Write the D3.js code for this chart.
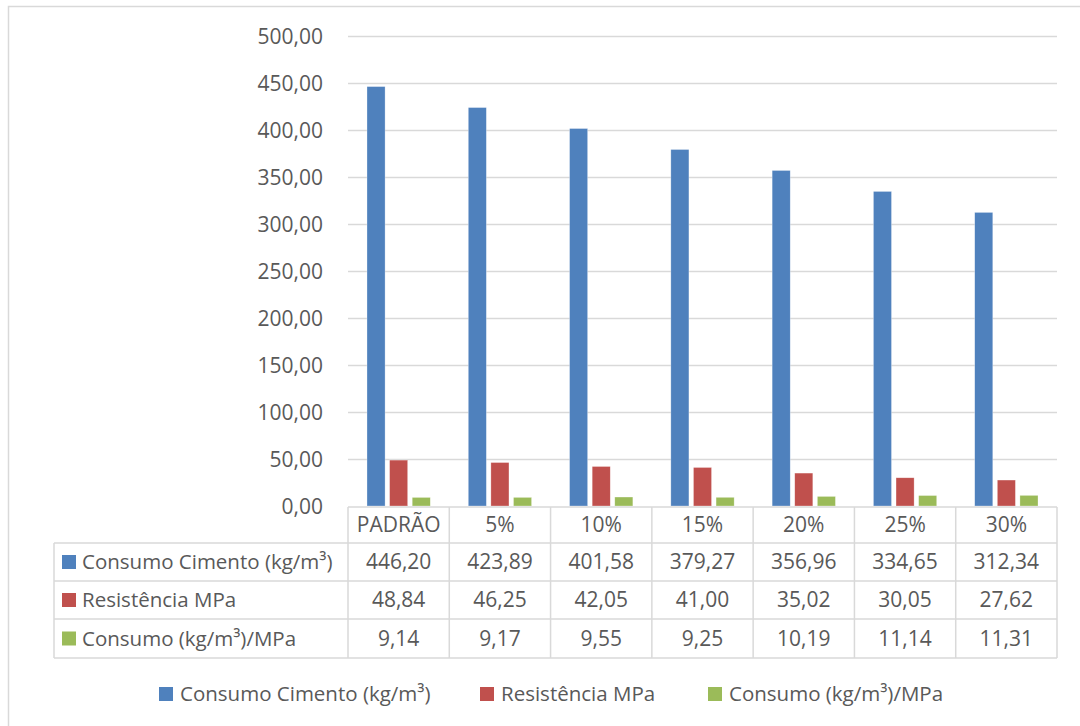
<!DOCTYPE html>
<html>
<head>
<meta charset="utf-8">
<script src="https://cdn.jsdelivr.net/npm/d3@7"></script>
<style>
  html, body { margin: 0; padding: 0; background: #fff; }
  svg { display: block; }
  text { font-family: "Open Sans", sans-serif; fill: #595959; }
</style>
</head>
<body>
<svg id="chart" width="1080" height="726"></svg>
<script>
// Categories (replacement levels) and the three measured series
const categories = ["PADRÃO", "5%", "10%", "15%", "20%", "25%", "30%"];
const seriesNames = ["Consumo Cimento (kg/m³)", "Resistência MPa", "Consumo (kg/m³)/MPa"];
const consumoCimento = [446.20, 423.89, 401.58, 379.27, 356.96, 334.65, 312.34];
const resistencia = [48.84, 46.25, 42.05, 41.00, 35.02, 30.05, 27.62];
const consumoPorMPa = [9.14, 9.17, 9.55, 9.25, 10.19, 11.14, 11.31];
const yTicks = [0, 50, 100, 150, 200, 250, 300, 350, 400, 450, 500];
const colors = ["#4F81BD", "#C0504D", "#9BBB59"];

const seriesValues = [consumoCimento, resistencia, consumoPorMPa];
const fmt = v => v.toFixed(2).replace(".", ",");

const svg = d3.select("#chart");
const gridColor = "#d9d9d9";
const fontSize = 21;
const textColor = "#555555";

// Outer chart frame
svg.append("rect")
  .attr("x", 8.5).attr("y", 6.5)
  .attr("width", 1100).attr("height", 740)
  .attr("fill", "none").attr("stroke", gridColor).attr("stroke-width", 1.5);

const plotLeft = 348, plotRight = 1057, plotTop = 36, plotBottom = 506;

const x = d3.scaleBand().domain(categories).range([plotLeft, plotRight]);
const xs = d3.scaleBand().domain(seriesNames)
  .range([0, x.bandwidth()]).paddingInner(0.2).paddingOuter(0.84);
const y = d3.scaleLinear().domain([0, 500]).range([plotBottom, plotTop]);

// Horizontal gridlines
svg.append("g").selectAll("line").data(yTicks.filter(t => t > 0)).join("line")
  .attr("x1", plotLeft).attr("x2", plotRight)
  .attr("y1", d => Math.round(y(d)) + 0.5).attr("y2", d => Math.round(y(d)) + 0.5)
  .attr("stroke", gridColor).attr("stroke-width", 1.5);

// Y-axis labels
const yAxis = d3.axisLeft(y).tickValues(yTicks).tickFormat(fmt).tickSize(0).tickPadding(0);
const yg = svg.append("g").attr("transform", "translate(323,0)").call(yAxis);
yg.select(".domain").remove();
yg.selectAll("text")
  .attr("font-family", "Open Sans, sans-serif")
  .attr("font-size", fontSize).attr("fill", textColor).attr("dy", "0.35em");

// Bars
const groups = svg.append("g").selectAll("g").data(seriesNames).join("g")
  .attr("fill", (d, i) => colors[i]);
groups.selectAll("rect")
  .data((s, i) => categories.map((c, j) => ({ s, c, v: seriesValues[i][j] })))
  .join("rect")
  .attr("x", d => x(d.c) + xs(d.s))
  .attr("width", xs.bandwidth())
  .attr("y", d => y(d.v))
  .attr("height", d => y(0) - y(d.v))
  .attr("stroke", "#ffffff").attr("stroke-opacity", 0.5).attr("stroke-width", 0.6);

// Data table below the plot
const headerTop = 507;
const rowEdges = [507, 543, 581, 619, 658];
const tableLeft = 54;
const tbl = svg.append("g").attr("stroke", gridColor).attr("stroke-width", 1.5);

// Horizontal table lines
rowEdges.forEach((ry, i) => {
  tbl.append("line")
    .attr("x1", i === 0 ? plotLeft : tableLeft).attr("x2", plotRight)
    .attr("y1", ry).attr("y2", ry);
});
// Vertical table lines
const colEdges = categories.map(c => x(c)).concat([plotRight]);
colEdges.forEach(cx => {
  tbl.append("line").attr("x1", cx).attr("x2", cx)
    .attr("y1", headerTop).attr("y2", rowEdges[4]);
});
tbl.append("line").attr("x1", tableLeft).attr("x2", tableLeft)
  .attr("y1", rowEdges[1]).attr("y2", rowEdges[4]);

// Category headers
svg.append("g").selectAll("text").data(categories).join("text")
  .attr("x", d => x(d) + x.bandwidth() / 2)
  .attr("y", (rowEdges[0] + rowEdges[1]) / 2)
  .attr("dy", "0.35em").attr("text-anchor", "middle")
  .attr("font-size", fontSize).attr("fill", textColor)
  .text(d => d);

// Series rows: legend key, name, values
seriesNames.forEach((name, i) => {
  const cy = (rowEdges[i + 1] + rowEdges[i + 2]) / 2;
  const row = svg.append("g");
  row.append("rect")
    .attr("x", 62).attr("y", cy - 7).attr("width", 14).attr("height", 14)
    .attr("fill", colors[i]);
  row.append("text")
    .attr("x", 82).attr("y", cy).attr("dy", "0.35em")
    .attr("font-size", 20.5).attr("fill", textColor).text(name);
  row.selectAll("text.v").data(seriesValues[i]).join("text")
    .attr("class", "v")
    .attr("x", (d, j) => x(categories[j]) + x.bandwidth() / 2)
    .attr("y", cy).attr("dy", "0.35em").attr("text-anchor", "middle")
    .attr("font-size", fontSize).attr("fill", textColor)
    .text(d => fmt(d));
});

// Legend at the bottom
const legendX = [159, 480, 708];
const legend = svg.append("g").selectAll("g").data(seriesNames).join("g")
  .attr("transform", (d, i) => `translate(${legendX[i]},694)`);
legend.append("rect")
  .attr("x", 0).attr("y", -7).attr("width", 14).attr("height", 14)
  .attr("fill", (d, i) => colors[i]);
legend.append("text")
  .attr("x", 21).attr("y", 0).attr("dy", "0.35em")
  .attr("font-size", 20.5).attr("fill", textColor).text(d => d);
</script>
</body>
</html>
